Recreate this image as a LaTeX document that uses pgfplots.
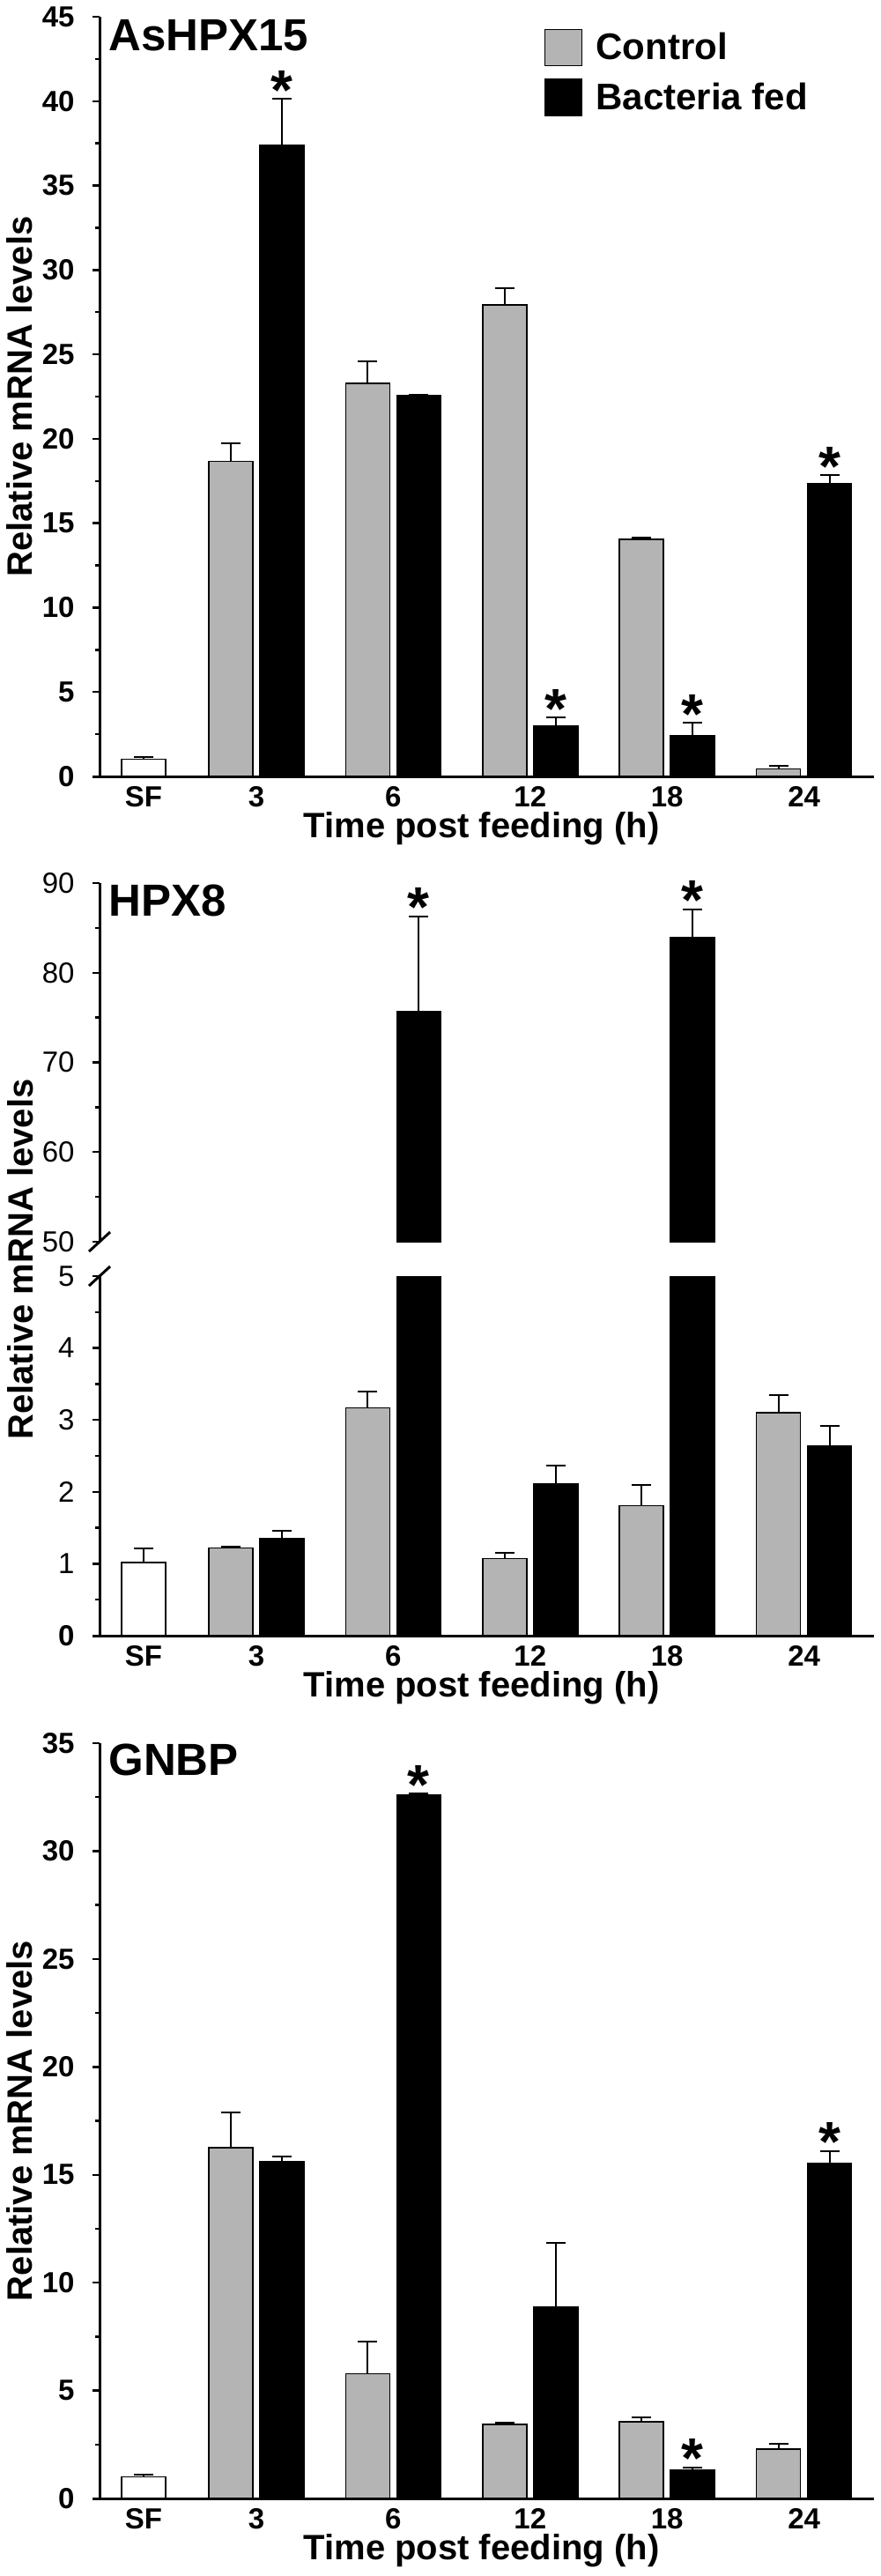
\documentclass[border=0pt]{standalone}
\usepackage{pgfplots}
\pgfplotsset{compat=1.18}
\usepackage{fontspec}
\setmainfont{Liberation Sans}
\definecolor{ctrlgray}{RGB}{180,180,180}
\newcommand{\tickfont}{\fontsize{16.5}{16.5}\selectfont}
\newcommand{\labfont}{\fontsize{20}{20}\selectfont\bfseries}
\newcommand{\legfont}{\fontsize{21}{21}\selectfont\bfseries}
\newcommand{\titfont}{\fontsize{25.5}{25.5}\selectfont\bfseries}
\newcommand{\starfont}{\fontsize{32}{32}\selectfont\bfseries}
\pgfplotsset{
  panel/.style={
    scale only axis, width=439.5pt,
    xmin=113, xmax=992,
    clip mode=individual,
    axis x line*=bottom, axis y line*=left,
    axis line style={-, line width=1.5pt, black},
    x axis line style={shorten <=-4pt},
    tick align=outside,
    major tick length=4pt, minor tick length=2.5pt,
    tick style={line width=1.2pt, black},
    xtick style={draw=none},
    /pgf/number format/assume math mode=true,
    tick label style={font=\tickfont\bfseries, inner sep=0pt},
    yticklabel style={xshift=-10pt},
    xticklabel style={yshift=-1.5pt},
    xtick={163,291,446.4,601.8,757.2,912.6},
    xticklabels={SF,3,6,12,18,24},
    minor y tick num=1,
    ylabel style={at={(axis description cs:-0.0865,0.5)}, anchor=base, font=\labfont},
    xlabel style={at={(axis description cs:0.5,0)}, anchor=base, yshift=-34.5pt, xshift=-3pt, font=\labfont},
  },
  bars/.style={ybar, bar shift=0pt, bar width=50, draw=black, line width=0.75pt,
    /pgfplots/error bars/y dir=plus,
    /pgfplots/error bars/y explicit,
    /pgfplots/error bars/error bar style={line width=1pt, black, solid},
    /pgfplots/error bars/error mark options={rotate=90, mark size=5.5pt, line width=1pt, black},
  },
  sqleg/.style={legend image code/.code={\draw[##1] (0pt,-10.25pt) rectangle (21pt,10.25pt);}},
}
\tikzset{
  star/.style={font=\starfont, anchor=base, inner sep=0pt, yshift=-6pt},
  ttl/.style={font=\titfont, anchor=base west, inner sep=0pt},
}
\begin{document}
\begin{tikzpicture}
\useasboundingbox (0,0) rectangle (500pt,-1461.5pt);

% ---------------- Panel 1: AsHPX15 ----------------
\begin{axis}[panel, at={(56.5pt,-440.5pt)}, anchor=south west, height=431pt,
  ymin=0, ymax=45, ytick={0,5,...,45},
  xlabel={Time post feeding (h)}, ylabel={Relative mRNA levels},
  legend style={at={(axis description cs:0.5745,0.9838)}, anchor=north west,
    draw=none, fill=none, font=\legfont, inner sep=0pt, outer sep=0pt,
    nodes={inner sep=0pt}, row sep=7pt, column sep=7.5pt},
  legend cell align=left,
]
\addplot[bars, fill=white, forget plot] table[x=x, y=y, y error=e] {
x y e
163 1.01 0.16
};
\addplot[bars, fill=ctrlgray, sqleg] table[x=x, y=y, y error=e] {
x y e
262 18.66 1.07
417.4 23.28 1.29
572.8 27.93 1.01
728.2 14.04 0.13
883.6 0.44 0.19
};
\addlegendentry{Control}
\addplot[bars, fill=black, sqleg] table[x=x, y=y, y error=e] {
x y e
320 37.38 2.75
475.4 22.58 0
630.8 2.97 0.51
786.2 2.44 0.72
941.6 17.33 0.51
};
\addlegendentry{Bacteria fed}
\node[ttl] at (axis description cs:0.0114,0.9548) {AsHPX15};
\node[star] at (axis cs:320,40.13) {*};
\node[star] at (axis cs:630.8,3.48) {*};
\node[star] at (axis cs:786.2,3.16) {*};
\node[star] at (axis cs:941.6,17.84) {*};
\end{axis}

% ---------------- Panel 2 upper: HPX8 ----------------
\begin{axis}[panel, at={(56.5pt,-704.5pt)}, anchor=south west, height=203.5pt,
  ymin=50, ymax=90, ytick={50,60,...,90},
  axis x line=none,
  yticklabel style={font=\tickfont},
]
\addplot[bars, fill=black] table[x=x, y=y, y error=e] {
x y e
475.4 75.7 10.6
786.2 83.9 3.2
};
\node[ttl] at (axis description cs:0.0114,0.909) {HPX8};
\node[star] at (axis cs:475.4,86.3) {*};
\node[star] at (axis cs:786.2,87.1) {*};
\draw[line width=1.5pt] ([xshift=-6pt,yshift=-5.5pt]axis cs:113,50) -- ([xshift=6pt,yshift=5.5pt]axis cs:113,50);
\end{axis}

% ---------------- Panel 2 lower ----------------
\begin{axis}[panel, at={(56.5pt,-928pt)}, anchor=south west, height=204pt,
  ymin=0, ymax=5, ytick={0,1,2,3,4,5}, yticklabels={{\bfseries 0},1,2,3,4,5},
  yticklabel style={font=\tickfont},
  xlabel={Time post feeding (h)},
]
\addplot[bars, fill=white] table[x=x, y=y, y error=e] {
x y e
163 1.02 0.19
};
\addplot[bars, fill=ctrlgray] table[x=x, y=y, y error=e] {
x y e
262 1.22 0.02
417.4 3.17 0.22
572.8 1.07 0.08
728.2 1.81 0.29
883.6 3.10 0.24
};
\addplot[bars, fill=black] table[x=x, y=y, y error=e] {
x y e
320 1.35 0.11
475.4 75.7 10.6
630.8 2.11 0.26
786.2 83.9 3.2
941.6 2.64 0.28
};
\draw[line width=1.5pt] ([xshift=-6pt,yshift=-5.5pt]axis cs:113,5) -- ([xshift=6pt,yshift=5.5pt]axis cs:113,5);
\end{axis}
\node[rotate=90, anchor=base, font=\labfont] at (18.5pt,-714.5pt) {Relative mRNA levels};

% ---------------- Panel 3: GNBP ----------------
\begin{axis}[panel, at={(56.5pt,-1417.5pt)}, anchor=south west, height=428.5pt,
  ymin=0, ymax=35, ytick={0,5,...,35},
  xlabel={Time post feeding (h)}, ylabel={Relative mRNA levels},
]
\addplot[bars, fill=white] table[x=x, y=y, y error=e] {
x y e
163 1.01 0.11
};
\addplot[bars, fill=ctrlgray] table[x=x, y=y, y error=e] {
x y e
262 16.26 1.62
417.4 5.79 1.49
572.8 3.43 0.08
728.2 3.56 0.21
883.6 2.29 0.26
};
\addplot[bars, fill=black] table[x=x, y=y, y error=e] {
x y e
320 15.60 0.24
475.4 32.61 0.05
630.8 8.88 2.95
786.2 1.30 0.14
941.6 15.55 0.55
};
\node[ttl] at (axis description cs:0.0114,0.957) {GNBP};
\node[star] at (axis cs:475.4,32.66) {*};
\node[star] at (axis cs:786.2,1.44) {*};
\node[star] at (axis cs:941.6,16.10) {*};
\end{axis}
\end{tikzpicture}
\end{document}
